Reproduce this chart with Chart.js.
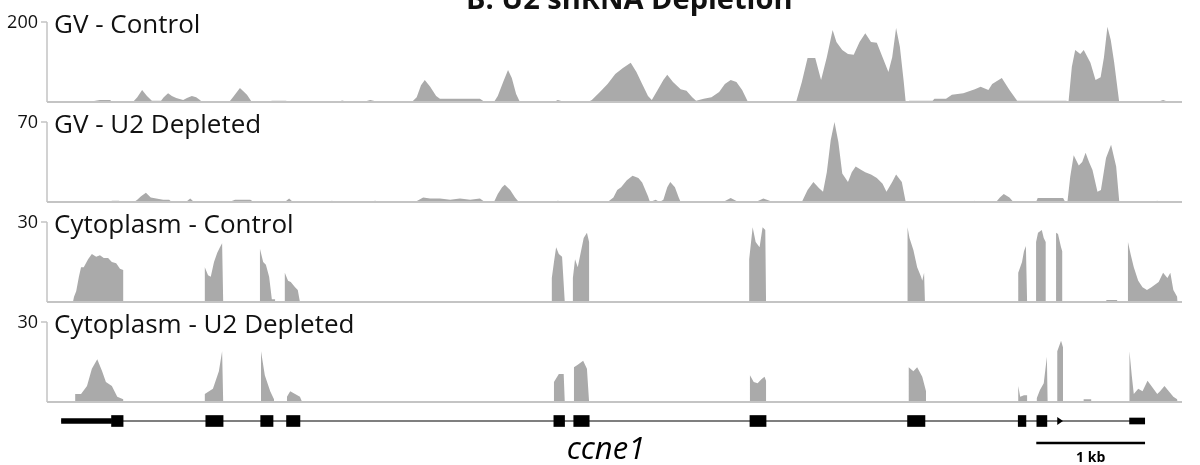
<!DOCTYPE html>
<html>
<head>
<meta charset="utf-8">
<script src="https://cdn.jsdelivr.net/npm/chart.js@4.4.0/dist/chart.umd.min.js"></script>
<style>
  html, body { margin: 0; padding: 0; background: #fff; }
  #figure { position: relative; width: 1200px; height: 465px; overflow: hidden; }
  #figure canvas { position: absolute; left: 0; }
</style>
</head>
<body>
<div id="figure">
  <canvas id="track0" width="1200" height="106" style="top:0px"></canvas>
  <canvas id="track1" width="1200" height="106" style="top:100px"></canvas>
  <canvas id="track2" width="1200" height="106" style="top:200px"></canvas>
  <canvas id="track3" width="1200" height="106" style="top:300px"></canvas>
  <canvas id="gene" width="1200" height="65" style="top:400px"></canvas>
</div>
<script>
// Coverage tracks for ccne1 (positions in bp from the left edge, coverage in reads)

const genomeEnd = 10500;

const trackNames = ['GV - Control', 'GV - U2 Depleted', 'Cytoplasm - Control', 'Cytoplasm - U2 Depleted'];
const trackMax = [200, 70, 30, 30];

const gvControl = [
  [260,0],[305,2.5],[435,2.5],[490,5],[585,5],[600,0],
  [795,0],[835,12],[880,30],[925,15],[970,3],
  [1055,3],[1080,12],[1120,22],[1155,15],[1195,10],
  [1260,5],[1295,10],[1340,15],[1380,12],[1415,5],[1435,0],
  [1685,0],[1720,12],[1785,35],[1850,18],[1895,0],
  [2045,0],[2080,3],[2210,3],[2250,0],
  [2690,0],[2730,4],[2785,0],
  [2925,0],[2990,5],[3070,0],
  [3375,0],[3420,12],[3460,42],[3495,55],[3545,38],[3600,15],[3635,8],[3820,8],[4005,8],[4050,0],
  [4135,0],[4170,15],[4220,50],[4265,80],[4300,60],[4340,20],[4375,0],
  [4690,0],[4725,5],[4790,0],
  [5005,0],[5040,5],[5115,25],[5186,45],[5257,70],[5328,85],[5400,98],[5453,75],[5506,45],[5560,15],
  [5595,5],[5649,30],[5702,55],[5738,68],[5791,50],[5862,32],[5916,28],[5969,12],[6005,3],
  [6076,8],[6147,12],[6218,25],[6271,45],[6325,55],[6378,50],[6431,30],[6485,0],
  [6538,2],[6894,2],[6930,0],
  [6983,50],[7036,110],[7107,110],[7161,55],[7214,112],[7268,180],[7303,150],[7357,130],[7410,120],
  [7463,118],[7517,150],[7570,172],[7623,150],[7677,148],[7730,112],[7784,75],[7819,112],[7855,185],
  [7890,138],[7926,50],[7944,0],
  [7979,3],[8193,3],[8210,8],[8317,8],[8371,18],[8477,22],[8584,32],[8637,38],[8709,30],[8744,45],
  [8833,60],[8904,30],[8975,3],[9430,3],[9450,0],
  [9481,88],[9512,130],[9559,120],[9591,130],[9653,98],[9700,55],[9747,62],[9778,112],[9810,188],
  [9841,155],[9872,100],[9919,0],
  [10271,0],[10325,5],[10378,0]
];

const gvU2 = [
  [585,0],[600,1],[665,1],[695,0],
  [805,0],[835,2],[870,5],[915,8],[960,4],[1010,3],[1075,2],[1130,2],[1155,0],
  [1285,0],[1325,3],[1360,0],
  [1685,0],[1740,2],[1880,2],[1915,0],
  [2200,0],[2240,3],[2275,0],
  [2610,0],[2635,1],[2675,0],
  [2980,0],[3035,1],[3090,0],
  [3405,0],[3480,4],[3545,3],[3635,3],[3730,2],[3820,3],[3915,2],[4005,3],[4050,0],
  [4135,0],[4170,7],[4210,13],[4235,15],[4285,10.5],[4330,4],[4365,0],
  [4690,0],[4725,1],[4790,0],
  [5186,0],[5240,4],[5275,10.5],[5311,13],[5364,19],[5417,23],[5471,21],[5506,17],[5560,5],[5578,0],
  [5631,2],[5666,0],[5702,2],[5738,13],[5766,17.5],[5809,13],[5844,4],[5862,0],
  [6254,0],[6325,3.5],[6396,0],
  [6556,0],[6627,3],[6716,0],
  [6983,0],[7036,10.5],[7090,17.5],[7143,12],[7179,9],[7214,26],[7250,54],[7285,70],[7321,52.5],
  [7357,25],[7410,17.5],[7445,26],[7481,31],[7534,28],[7570,26],[7623,24],[7677,21],[7730,16],
  [7766,9],[7819,17.5],[7855,24],[7908,17.5],[7944,0],
  [8566,0],[8584,1],[8602,0],
  [8780,0],[8815,4],[8851,7],[8904,4],[8940,0],
  [9150,0],[9165,3.5],[9400,3.5],[9420,0],
  [9440,0],[9466,22],[9498,41],[9545,32],[9577,35],[9608,43],[9640,35],[9672,28],[9718,9],
  [9750,10.5],[9797,38.5],[9844,50],[9891,31],[9920,0],
  [10240,0],[10270,1],[10300,0]
];

const cytoControl = [
  [240,0],[250,2],[270,4],[295,9.5],[315,13],[340,13],[380,16],[415,18],[455,17],[490,17.5],
  [525,16.5],[565,16.5],[600,15],[640,14.5],[675,12.5],[705,12],[705,0],
  [1460,0],[1460,13],[1490,10],[1515,9.5],[1545,15],[1575,18.5],[1600,20.5],[1620,22],[1630,0],
  [1970,0],[1970,20],[2000,15],[2025,14],[2055,9.5],[2080,1],[2110,1],[2110,0],
  [2200,0],[2200,11],[2230,8],[2255,7.5],[2295,5.5],[2320,4.5],[2340,0],
  [4670,0],[4670,9],[4690,15],[4710,20.5],[4735,18],[4765,17],[4790,0],
  [4865,0],[4865,9],[4885,16],[4910,13],[4940,19],[4965,24],[4995,26],[5015,22.5],[5015,0],
  [6496,0],[6496,16],[6528,28],[6556,22.5],[6592,20.5],[6620,28],[6645,27],[6652,0],
  [7961,0],[7961,28],[7979,24],[8015,19.5],[8050,13],[8086,9.5],[8097,8],[8114,11],[8122,10.5],[8122,0],
  [8985,0],[8985,11],[9020,15],[9038,19],[9056,21],[9067,0],
  [9150,0],[9150,22.5],[9168,26],[9203,27],[9221,24],[9239,22.5],[9239,0],
  [9335,0],[9335,26],[9353,25.5],[9381,20.5],[9392,19],[9392,0],
  [9800,0],[9800,0.75],[9900,0.75],[9900,0],
  [10000,0],[10000,22.5],[10027,17.5],[10054,13],[10095,8],[10135,5.5],[10176,4.5],[10217,5.5],
  [10284,7.5],[10325,11],[10365,9],[10392,11],[10420,4.5],[10455,2],[10460,0]
];

const cytoU2 = [
  [260,0],[260,3],[315,3],[370,6],[415,12.5],[465,16],[510,11.5],[545,7.5],[600,6],[650,2],[705,1],[705,0],
  [1460,0],[1460,3],[1535,5],[1590,11.5],[1620,19],[1630,0],
  [1980,0],[1980,19],[2015,10],[2065,4],[2100,1],[2100,0],
  [2220,0],[2220,2],[2250,4],[2295,3],[2340,2],[2360,0],
  [4690,0],[4690,7.5],[4735,10.5],[4780,10.5],[4790,0],
  [4875,0],[4875,13],[4910,14],[4960,15.5],[4995,12.5],[5015,0],
  [6503,0],[6503,10],[6538,7.5],[6574,7],[6609,8.5],[6638,9.5],[6652,8],[6652,0],
  [7972,0],[7972,13],[8015,11.5],[8050,13],[8097,9.5],[8132,4],[8132,0],
  [8985,0],[8985,6],[9003,2],[9038,2.5],[9067,2.5],[9067,0],
  [9157,0],[9157,1.5],[9186,4.5],[9221,7],[9250,17],[9257,0],
  [9346,0],[9346,19],[9381,23],[9399,20.5],[9399,0],
  [9590,0],[9590,1],[9660,1],[9660,0],
  [10014,0],[10014,19],[10035,10],[10054,3],[10095,5],[10135,4],[10181,8],[10217,6],[10271,3],
  [10297,4],[10338,6],[10378,4],[10420,2],[10455,1],[10460,0]
];

// gene model of ccne1 (start, end in bp)
const utr5 = [[134, 597]];
const exons = [[597,704],[1469,1629],[1977,2091],[2216,2340],[4689,4788],[4873,5016],
               [6503,6652],[7961,8122],[8985,9056],[9157,9250]];
const utr3 = [[10015, 10155]];
const startArrow = [9346, 9399];
const geneSpan = [134, 10155];
const scaleBar = [9155, 10155];

const fillGray = '#aaaaaa';
const axisGray = '#c4c4c4';
const fontFamily = '"Open Sans", "DejaVu Sans", sans-serif';

// eixos, rótulos e título de cada trilha
const trackDecor = {
  id: 'trackDecor',
  afterDatasetsDraw(chart, args, opts) {
    const { ctx, chartArea: a, scales: { y } } = chart;
    const topY = y.getPixelForValue(opts.max);
    ctx.save();
    ctx.strokeStyle = axisGray;
    ctx.lineWidth = 2;
    ctx.beginPath();
    ctx.moveTo(a.left, a.bottom);
    ctx.lineTo(a.right, a.bottom);
    ctx.stroke();
    ctx.lineWidth = 1.5;
    ctx.beginPath();
    ctx.moveTo(a.left, topY);
    ctx.lineTo(a.left, a.bottom);
    ctx.moveTo(a.left - 6, topY);
    ctx.lineTo(a.left, topY);
    ctx.stroke();

    ctx.fillStyle = '#111';
    ctx.font = '18px ' + fontFamily;
    ctx.textAlign = 'right';
    ctx.textBaseline = 'middle';
    ctx.fillText(String(opts.max), a.left - 9, topY + 1);

    ctx.font = '26px ' + fontFamily;
    ctx.textAlign = 'left';
    ctx.textBaseline = 'alphabetic';
    ctx.fillText(opts.name, a.left + 7, topY + 11);

    if (opts.title) {
      ctx.font = 'bold 29px ' + fontFamily;
      ctx.fillText(opts.title, 466, 9);
    }
    ctx.restore();
  }
};

function makeTrack(id, points, name, max, title) {
  return new Chart(document.getElementById(id), {
    type: 'line',
    data: {
      datasets: [{
        data: points.map(p => ({ x: p[0], y: p[1] })),
        fill: 'origin',
        backgroundColor: fillGray,
        borderWidth: 0,
        pointRadius: 0,
        tension: 0
      }]
    },
    options: {
      responsive: false,
      animation: false,
      layout: { padding: { left: 47, right: 18, top: 22, bottom: 4 } },
      plugins: {
        legend: { display: false },
        tooltip: { enabled: false },
        trackDecor: { name: name, max: max, title: title }
      },
      scales: {
        x: { type: 'linear', min: 0, max: genomeEnd, display: false },
        y: { min: 0, max: max, display: false }
      }
    },
    plugins: [trackDecor]
  });
}

makeTrack('track0', gvControl, trackNames[0], trackMax[0], 'B. U2 snRNA Depletion');
makeTrack('track1', gvU2, trackNames[1], trackMax[1]);
makeTrack('track2', cytoControl, trackNames[2], trackMax[2]);
makeTrack('track3', cytoU2, trackNames[3], trackMax[3]);

// seta de início, nome do gene e legenda da barra de escala
const geneDecor = {
  id: 'geneDecor',
  afterDatasetsDraw(chart) {
    const { ctx, scales: { x, y } } = chart;
    const yc = y.getPixelForValue(0);
    const x1 = x.getPixelForValue(startArrow[0]);
    const x2 = x.getPixelForValue(startArrow[1]);
    ctx.save();
    ctx.fillStyle = '#000';
    ctx.beginPath();
    ctx.moveTo(x1, yc - 4);
    ctx.lineTo(x2, yc);
    ctx.lineTo(x1, yc + 4);
    ctx.closePath();
    ctx.fill();

    ctx.textAlign = 'center';
    ctx.textBaseline = 'alphabetic';
    ctx.font = 'italic 31px ' + fontFamily;
    ctx.fillText('ccne1', 606, 59);

    ctx.font = 'bold 14px ' + fontFamily;
    const mid = (x.getPixelForValue(scaleBar[0]) + x.getPixelForValue(scaleBar[1])) / 2;
    ctx.fillText('1 kb', mid, 62);
    ctx.restore();
  }
};

const toBars = (list, row) => list.map(e => ({ x: e, y: row }));

new Chart(document.getElementById('gene'), {
  type: 'bar',
  data: {
    labels: ['gene', 'scale'],
    datasets: [
      { data: toBars(exons, 'gene'), backgroundColor: '#000', barThickness: 11 },
      { data: toBars(utr5, 'gene'), backgroundColor: '#000', barThickness: 5 },
      { data: toBars(utr3, 'gene'), backgroundColor: '#000', barThickness: 6 },
      { data: toBars([scaleBar], 'scale'), backgroundColor: '#000', barThickness: 2 },
      { data: toBars([geneSpan], 'gene'), backgroundColor: '#555', barThickness: 1 }
    ]
  },
  options: {
    indexAxis: 'y',
    responsive: false,
    animation: false,
    datasets: { bar: { grouped: false, borderWidth: 0 } },
    layout: { padding: { left: 47, right: 18, top: 10, bottom: 11 } },
    plugins: { legend: { display: false }, tooltip: { enabled: false } },
    scales: {
      x: { type: 'linear', min: 0, max: genomeEnd, display: false },
      y: { type: 'category', display: false }
    }
  },
  plugins: [geneDecor]
});
</script>
</body>
</html>
